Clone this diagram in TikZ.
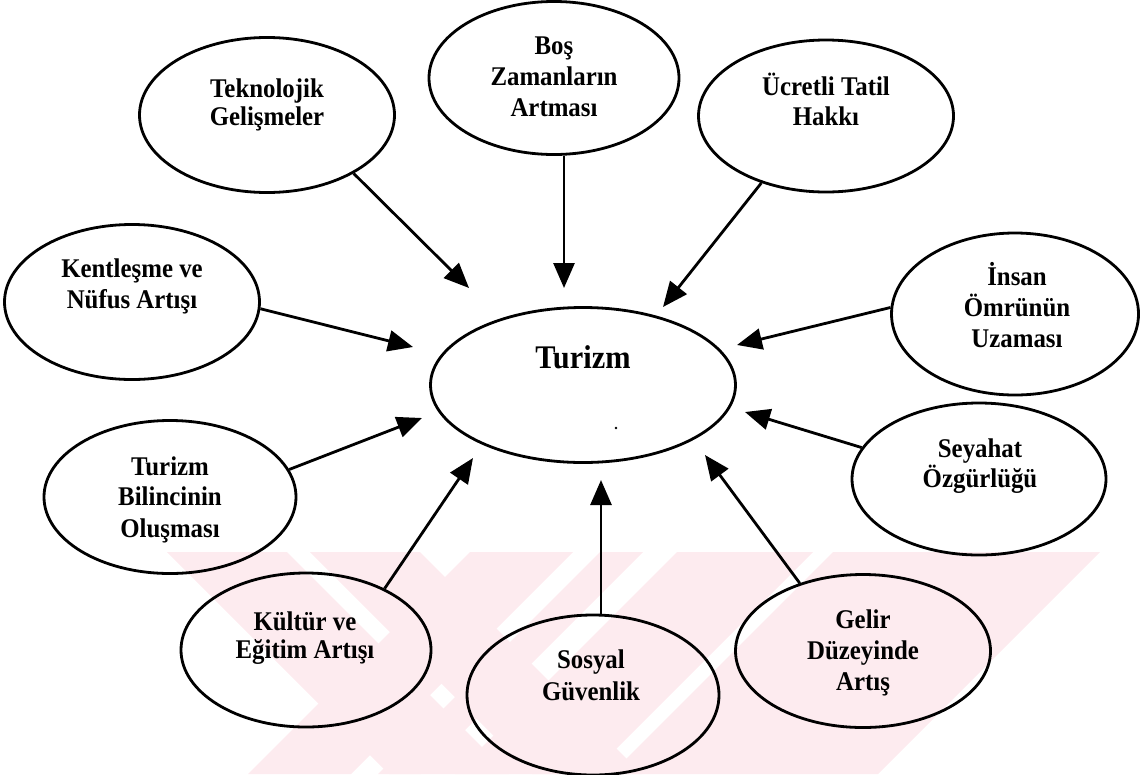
\documentclass[tikz,border=0pt]{standalone}
\usepackage{fontspec}
\setmainfont{Liberation Serif}[FakeStretch=0.92]
\usetikzlibrary{shapes.geometric,arrows.meta}
\definecolor{wm}{RGB}{253,235,239}
\begin{document}
\begin{tikzpicture}[x=1pt,y=-1pt,
  bub/.style={draw, ellipse, line width=2.8pt, inner sep=0pt},
  ln/.style={font=\bfseries\fontsize{27}{30}\selectfont, anchor=base, inner sep=0pt},
  arr/.style={line width=2.8pt, -{Triangle[length=25pt,width=21pt]}}]
\useasboundingbox (0,0) rectangle (1140,774);
% watermark
\begin{scope}
  \clip (160,552) rectangle (1105,774);
  \fill[wm] (167,552) -- (287,552) -- (509,774) -- (389,774) -- cycle;
  \fill[wm] (310,552) -- (420,552) -- (642,774) -- (532,774) -- cycle;
  \fill[wm] (470,552) -- (573,552) -- (351,774) -- (248,774) -- cycle;
  \fill[wm] (600,552) -- (643,552) -- (421,774) -- (378,774) -- cycle;
  \fill[wm] (677,552) -- (813,552) -- (591,774) -- (455,774) -- cycle;
  \fill[wm] (833,552) -- (1100,552) -- (878,774) -- (611,774) -- cycle;
  \fill[white] (912,745) -- (941,774) -- (883,774) -- cycle;
\end{scope}
% ellipses
\node[bub, minimum width=255pt, minimum height=155pt] (tek) at (267,115) {};
\node[bub, minimum width=250pt, minimum height=153pt] (bos) at (554,78) {};
\node[bub, minimum width=255pt, minimum height=152pt] (ucr) at (826,116) {};
\node[bub, minimum width=255pt, minimum height=155pt] (ken) at (132,302) {};
\node[bub, minimum width=305pt, minimum height=155pt] (tur) at (583,385) {};
\node[bub, minimum width=247pt, minimum height=162pt] (ins) at (1015,314) {};
\node[bub, minimum width=252pt, minimum height=153pt] (bil) at (170,497) {};
\node[bub, minimum width=254pt, minimum height=152pt] (sey) at (979,479) {};
\node[bub, minimum width=250pt, minimum height=154pt] (kul) at (306,650) {};
\node[bub, minimum width=252pt, minimum height=160pt] (sos) at (593,695) {};
\node[bub, minimum width=255pt, minimum height=153pt] (gel) at (863,651) {};
% labels (one node per printed line, placed on its baseline)
\node[ln] (tek1) at (267,97) {Teknolojik};
\node[ln] (tek2) at (267,125) {Gelişmeler};
\node[ln] (bos1) at (554,54) {Boş};
\node[ln] (bos2) at (554,85) {Zamanların};
\node[ln] (bos3) at (554,116) {Artması};
\node[ln] (ucr1) at (826,95) {Ücretli Tatil};
\node[ln] (ucr2) at (826,125) {Hakkı};
\node[ln] (ken1) at (132,277) {Kentleşme ve};
\node[ln] (ken2) at (132,308) {Nüfus Artışı};
\node[ln, font=\bfseries\fontsize{33}{36}\selectfont] (tur1) at (583,368) {Turizm};
\node[ln] (ins1) at (1017,285) {İnsan};
\node[ln] (ins2) at (1017,316) {Ömrünün};
\node[ln] (ins3) at (1017,347) {Uzaması};
\node[ln] (bil1) at (170,475) {Turizm};
\node[ln] (bil2) at (170,505) {Bilincinin};
\node[ln] (bil3) at (170,537) {Oluşması};
\node[ln] (sey1) at (980,457) {Seyahat};
\node[ln] (sey2) at (980,487) {Özgürlüğü};
\node[ln] (kul1) at (305,630) {Kültür ve};
\node[ln] (kul2) at (305,658) {Eğitim Artışı};
\node[ln] (sos1) at (591,668) {Sosyal};
\node[ln] (sos2) at (591,700) {Güvenlik};
\node[ln] (gel1) at (863,628) {Gelir};
\node[ln] (gel2) at (863,659) {Düzeyinde};
\node[ln] (gel3) at (863,690) {Artış};
% arrow tips
\coordinate (tTek) at (469,288);
\coordinate (tBos) at (564,288);
\coordinate (tUcr) at (663,307);
\coordinate (tKen) at (413,347);
\coordinate (tIns) at (737,345);
\coordinate (tBil) at (422,418);
\coordinate (tSey) at (745,412);
\coordinate (tKul) at (473,458);
\coordinate (tSos) at (601,480);
\coordinate (tGel) at (705,455);
\draw[arr] (tek.-34) -- (tTek);
\draw[arr] (tBos |- bos.south) -- (tBos);
\draw[arr] (ucr.-134) -- (tUcr);
\draw[arr] (ken.-3) -- (tKen);
\draw[arr] (ins.177) -- (tIns);
\draw[arr] (bil.13) -- (tBil);
\draw[arr] (sey.165) -- (tSey);
\draw[arr] (kul.38) -- (tKul);
\draw[arr] (tSos |- sos.north) -- (tSos);
\draw[arr] (gel.133) -- (tGel);
\fill (616,428) circle (1.3pt) coordinate (dot);
\end{tikzpicture}
\end{document}
